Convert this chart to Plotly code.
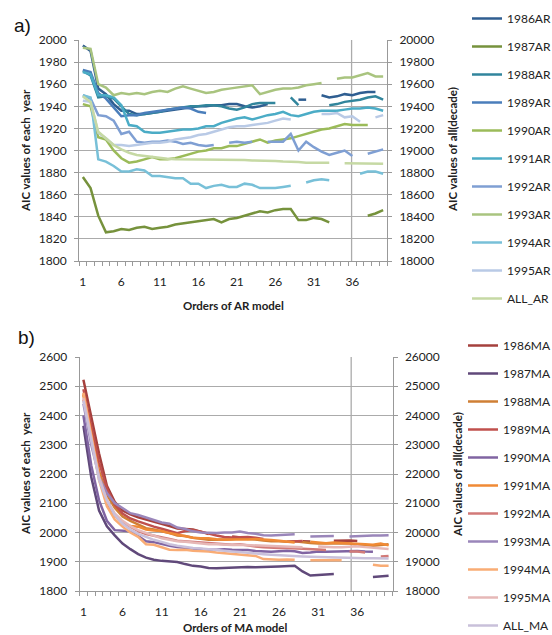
import plotly.graph_objects as go

N = None
orders = list(range(1, 41))
x_ticks = [1, 6, 11, 16, 21, 26, 31, 36]

# ---------------- AR models (panel a) ----------------
ar_1986 = [1995, 1990, 1956, 1951, 1942, 1936, 1936, 1933, 1933, 1934, 1935, 1936, 1937, 1938, 1939, 1940, 1940, 1941, 1941, 1942,
           1942, 1940, 1939, 1940, 1942, N, N, N, 1946, 1946, N, 1950, 1948, 1949, 1951, 1950, 1952, 1953, 1953, N]
ar_1987 = [1876, 1866, 1841, 1826, 1827, 1829, 1828, 1830, 1831, 1829, 1830, 1831, 1833, 1834, 1835, 1836, 1837, 1838, 1835, 1838,
           1839, 1841, 1843, 1845, 1844, 1846, 1847, 1847, 1837, 1837, 1839, 1838, 1835, N, N, N, N, 1841, 1843, 1846]
ar_1988 = [1972, 1968, 1948, 1949, 1947, 1940, 1933, 1932, 1933, 1934, 1935, 1937, 1938, 1939, 1940, 1940, 1941, 1941, 1940, 1938,
           1937, 1939, 1942, 1943, 1943, 1943, N, 1948, 1941, N, N, N, 1941, 1942, 1944, 1945, 1946, 1948, 1949, 1946]
ar_1989 = [1973, 1971, 1952, 1947, 1939, 1931, 1932, 1932, 1934, 1935, 1936, 1937, 1938, 1939, 1938, 1935, 1934, N, N, N,
           N, N, N, N, N, N, N, N, N, N, N, N, N, N, N, N, N, N, N, N]
ar_1990 = [1942, 1940, 1912, 1910, 1900, 1893, 1889, 1890, 1892, 1894, 1892, 1892, 1893, 1895, 1897, 1899, 1900, 1902, 1902, 1904,
           1904, 1906, 1908, 1910, 1907, 1909, 1910, 1911, 1913, 1915, 1917, 1919, 1920, 1922, 1924, 1923, 1923, 1923, N, N]
ar_1991 = [1971, 1969, 1950, 1950, 1948, 1941, 1923, 1922, 1917, 1916, 1916, 1917, 1918, 1919, 1919, 1920, 1922, 1922, 1925, 1927,
           1929, 1930, 1928, 1930, 1932, 1933, 1935, 1932, 1931, 1933, 1935, 1936, 1936, 1936, 1937, 1938, 1938, 1939, 1938, 1936]
ar_1992 = [1950, 1947, 1932, 1931, 1927, 1915, 1917, 1908, 1907, 1908, 1908, 1909, 1908, 1906, 1907, 1905, 1904, 1905, N, 1907,
           1908, 1907, 1908, N, 1908, 1908, 1908, 1915, 1900, 1908, 1903, 1899, 1896, 1898, 1900, 1895, N, 1897, 1899, 1901]
ar_1993 = [1993, 1992, 1960, 1957, 1950, 1952, 1951, 1952, 1951, 1953, 1954, 1953, 1956, 1958, 1956, 1954, 1952, 1953, 1955, 1956,
           1957, 1958, 1959, 1951, 1953, 1955, 1956, 1956, 1957, 1959, 1960, 1961, N, 1965, 1966, 1966, 1968, 1970, 1967, 1967]
ar_1994 = [1950, 1948, 1892, 1890, 1886, 1881, 1881, 1883, 1882, 1877, 1877, 1876, 1875, 1875, 1870, 1870, 1866, 1868, 1869, 1867,
           1867, 1870, 1869, 1866, 1866, 1866, 1867, 1868, N, 1871, 1873, 1874, 1873, N, N, N, 1879, 1881, 1881, 1879]
ar_1995 = [1945, 1944, 1916, 1911, 1905, 1905, 1904, 1905, 1906, 1907, 1907, 1908, 1910, 1911, 1912, 1914, 1915, 1917, 1919, 1921,
           1922, 1922, 1923, 1924, 1925, 1927, 1929, 1928, N, N, N, 1933, 1933, 1934, 1930, 1931, 1926, N, 1930, 1932]
all_ar = [19490, 19440, 19170, 19110, 19050, 19010, 18980, 18960, 18950, 18940, 18930, 18925, 18920, 18920, 18920, 18915, 18915,
          18915, 18915, 18915, 18915, 18915, 18910, 18910, 18905, 18905, 18900, 18900, 18895, 18890, 18890, 18885, 18890, N,
          18885, 18885, 18885, 18885, 18885, 18880]

ar_series = [
    ("1986AR", ar_1986, "#2f5e91"),
    ("1987AR", ar_1987, "#76923c"),
    ("1988AR", ar_1988, "#31859c"),
    ("1989AR", ar_1989, "#4a7ebb"),
    ("1990AR", ar_1990, "#9bbb59"),
    ("1991AR", ar_1991, "#4bacc6"),
    ("1992AR", ar_1992, "#7f9fd3"),
    ("1993AR", ar_1993, "#a9c47f"),
    ("1994AR", ar_1994, "#78c0d8"),
    ("1995AR", ar_1995, "#b9cae6"),
]

# ---------------- MA models (panel b) ----------------
ma_1986 = [2522, 2400, 2270, 2160, 2105, 2075, 2062, 2052, 2045, 2037, 2030, 2022, 2014, 2012, 2010, 2003, 1995, N, N, 1986,
           1982, 1980, N, N, N, N, N, N, 1970, 1969, N, N, 1972, 1973, 1973, 1971, N, N, N, N]
ma_1987 = [2365, 2190, 2075, 2021, 1990, 1962, 1943, 1926, 1914, 1907, 1903, 1901, 1899, 1892, 1886, 1884, 1879, 1878, 1879, 1880,
           1882, 1882, 1881, 1883, 1883, 1884, 1885, 1886, 1867, 1853, 1855, 1857, 1858, N, N, N, N, 1848, 1850, 1852]
ma_1988 = [2470, 2330, 2210, 2130, 2085, 2055, 2040, 2028, 2015, 2010, 2005, 1998, 1990, 1988, 1982, 1978, 1975, 1975, 1975, 1977,
           1980, 1979, 1976, 1973, 1970, 1970, 1968, 1970, 1966, 1964, 1962, 1963, 1964, 1963, 1962, 1958, 1957, 1955, 1957, 1960]
ma_1989 = [2490, 2370, 2240, 2150, 2095, 2065, 2048, 2038, 2028, 2020, 2013, 2005, 1998, 2005, 2008, 2003, 1996, 1990, 1985, 1983,
           1984, 1985, 1982, 1978, N, N, 1968, 1970, 1971, N, N, N, N, N, N, N, N, N, N, N]
ma_1990 = [2400, 2230, 2110, 2040, 2008, 2006, 2004, 1988, 1970, 1967, 1960, 1955, 1950, 1947, 1945, 1944, 1941, 1941, 1943, 1941,
           1941, 1940, 1937, 1936, 1934, 1936, 1938, 1936, 1930, 1932, 1935, 1934, 1935, 1936, 1938, 1937, 1935, 1934, N, N]
ma_1991 = [2475, 2340, 2200, 2110, 2060, 2030, 2022, 2020, 2010, 2007, 2005, 1998, 1992, 1987, 1982, 1980, 1980, 1977, 1975, 1976,
           1975, 1976, 1978, 1977, 1974, 1972, 1970, 1966, N, 1968, 1965, 1963, 1966, 1965, 1963, 1962, 1960, 1958, 1962, 1956]
ma_1992 = [2455, 2320, 2190, 2100, 2060, 2035, 2020, 2005, 1995, 1990, 1985, 1978, 1972, 1970, 1967, 1965, 1963, 1962, 1960, 1958,
           1960, 1955, 1952, 1950, 1948, 1947, 1947, 1946, 1945, 1945, 1942, 1940, N, N, 1935, 1935, 1932, N, 1918, 1920]
ma_1993 = [2440, 2300, 2190, 2135, 2101, 2083, 2066, 2060, 2051, 2041, 2034, 2030, 2017, 2012, 2004, 2000, 1998, 1998, 2000, 2000,
           2003, 1998, 1996, 1991, 1990, 1991, 1993, 1994, N, 1986, 1986, 1986, 1988, N, 1986, 1988, 1989, 1990, 1990, 1991]
ma_1994 = [2478, 2330, 2180, 2090, 2045, 2020, 2000, 1985, 1960, 1958, 1950, 1941, 1940, 1941, 1938, 1937, 1935, 1932, 1930, 1927,
           1924, 1922, 1920, 1909, 1907, 1907, 1908, 1907, N, 1905, 1904, 1905, 1906, 1905, N, N, N, 1890, 1886, 1886]
ma_1995 = [2460, 2320, 2190, 2110, 2065, 2040, 2022, 2008, 1998, 1988, 1980, 1975, 1970, 1968, 1965, 1962, 1960, 1960, 1958, 1957,
           1958, 1957, 1956, 1955, 1953, 1952, 1953, 1950, 1950, N, 1952, 1950, 1950, 1950, 1952, 1953, 1950, 1948, 1944, 1944]
all_ma = [24500, 23100, 21800, 21100, 20600, 20300, 20100, 19950, 19850, 19750, 19680, 19600, 19550, 19500, 19470, 19450, 19420,
          19400, 19370, 19350, 19330, 19300, 19280, 19260, 19240, 19220, 19210, 19200, 19180, 19170, 19160, 19150, 19140, 19140,
          19130, 19130, 19120, 19120, 19110, 19110]

ma_series = [
    ("1986MA", ma_1986, "#a5403d"),
    ("1987MA", ma_1987, "#60497a"),
    ("1988MA", ma_1988, "#cf7f35"),
    ("1989MA", ma_1989, "#c0504d"),
    ("1990MA", ma_1990, "#8064a2"),
    ("1991MA", ma_1991, "#f08a35"),
    ("1992MA", ma_1992, "#d27a78"),
    ("1993MA", ma_1993, "#9a86ba"),
    ("1994MA", ma_1994, "#f9ac75"),
    ("1995MA", ma_1995, "#e6b8b7"),
]

W, H = 552, 635
FONT = "Lato"
TXT = "#222222"
GRID = "#ababab"
AX = "#999999"
LW = 2.5

fig = go.Figure()

for name, vals, col in ar_series:
    fig.add_trace(go.Scatter(x=orders, y=vals, name=name, mode="lines",
                             line=dict(color=col, width=LW), xaxis="x", yaxis="y",
                             legend="legend", legendgroup=name))
fig.add_trace(go.Scatter(x=orders, y=all_ar, name="ALL_AR", mode="lines",
                         line=dict(color="#c6d9a4", width=LW), xaxis="x", yaxis="y2",
                         legend="legend", legendgroup="ALL_AR"))

for name, vals, col in ma_series:
    fig.add_trace(go.Scatter(x=orders, y=vals, name=name, mode="lines",
                             line=dict(color=col, width=LW), xaxis="x2", yaxis="y3",
                             legend="legend2", legendgroup=name))
fig.add_trace(go.Scatter(x=orders, y=all_ma, name="ALL_MA", mode="lines",
                         line=dict(color="#c9c0da", width=LW), xaxis="x2", yaxis="y4",
                         legend="legend2", legendgroup="ALL_MA"))


def px_x(p):
    return p / W


def px_y(p):
    return 1 - p / H


xa_dom = [px_x(79), px_x(387)]
ya_dom = [px_y(261), px_y(40)]
xb_dom = [px_x(79.5), px_x(392.5)]
yb_dom = [px_y(591), px_y(357)]

tickfont = dict(family=FONT, size=12, color=TXT)

xcommon = dict(range=[0.5, 40.5], tickmode="array", tickvals=x_ticks, ticktext=[str(v) for v in x_ticks],
               ticks="", showgrid=False, showline=True, linecolor=AX, linewidth=1, zeroline=False,
               tickfont=tickfont, ticklabelstandoff=10, automargin=False,
               minor=dict(tick0=0.5, dtick=1, ticks="outside", ticklen=4, tickcolor=AX, showgrid=False))
ycommon = dict(showline=True, linecolor=AX, linewidth=1, ticks="outside", ticklen=4, tickcolor=AX,
               zeroline=False, tickfont=tickfont, ticklabelstandoff=5, automargin=False, tickformat="d")

fig.update_layout(
    width=W, height=H, margin=dict(l=0, r=0, t=0, b=0, autoexpand=False),
    paper_bgcolor="white", plot_bgcolor="white",
    font=dict(family=FONT, size=12, color=TXT),
    xaxis=dict(domain=xa_dom, anchor="y", **xcommon),
    yaxis=dict(domain=ya_dom, anchor="x", range=[1800, 2000], dtick=20, showgrid=True,
               gridcolor=GRID, gridwidth=1.3, **ycommon),
    yaxis2=dict(overlaying="y", side="right", anchor="x", range=[18000, 20000], dtick=200,
                showgrid=False, **ycommon),
    xaxis2=dict(domain=xb_dom, anchor="y3", **xcommon),
    yaxis3=dict(domain=yb_dom, anchor="x2", range=[1800, 2600], dtick=100, showgrid=True,
                gridcolor=GRID, gridwidth=1.3, **ycommon),
    yaxis4=dict(overlaying="y3", side="right", anchor="x2", range=[18000, 26000], dtick=1000,
                showgrid=False, **ycommon),
    legend=dict(x=px_x(467), y=px_y(4), xanchor="left", yanchor="top", bgcolor="rgba(0,0,0,0)",
                font=dict(family=FONT, size=12, color=TXT), tracegroupgap=9, itemwidth=30),
    legend2=dict(x=px_x(463), y=px_y(331), xanchor="left", yanchor="top", bgcolor="rgba(0,0,0,0)",
                 font=dict(family=FONT, size=12, color=TXT), tracegroupgap=9, itemwidth=30),
    showlegend=True,
)

# single vertical reference line inside each plot area
fig.add_shape(type="line", xref="x domain", yref="y domain", x0=0.885, x1=0.885, y0=0, y1=1,
              line=dict(color=GRID, width=1.3), layer="below")
fig.add_shape(type="line", xref="x2 domain", yref="y3 domain", x0=0.868, x1=0.868, y0=0, y1=1,
              line=dict(color=GRID, width=1.3), layer="below")

ttl = dict(family=FONT, size=11.5, color=TXT)
ann = [
    dict(text="a)", x=px_x(12), y=px_y(25), xanchor="left", yanchor="middle",
         font=dict(family="Liberation Sans", size=19, color="#111")),
    dict(text="b)", x=px_x(16), y=px_y(337), xanchor="left", yanchor="middle",
         font=dict(family="Liberation Sans", size=19, color="#111")),
    dict(text="<b>AIC values of each  year</b>", x=px_x(25), y=px_y(151), textangle=-90, font=ttl),
    dict(text="<b>AIC values of all(decade)</b>", x=px_x(452), y=px_y(150), textangle=-90, font=ttl),
    dict(text="<b>Orders of AR model</b>", x=px_x(233), y=px_y(305), font=ttl),
    dict(text="<b>AIC values of each  year</b>", x=px_x(25), y=px_y(474), textangle=-90, font=ttl),
    dict(text="<b>AIC values of all(decade)</b>", x=px_x(457), y=px_y(475), textangle=-90, font=ttl),
    dict(text="<b>Orders of MA model</b>", x=px_x(235), y=px_y(627), font=ttl),
]
for a in ann:
    a.update(xref="paper", yref="paper", showarrow=False)
    a.setdefault("xanchor", "center")
    a.setdefault("yanchor", "middle")
fig.update_layout(annotations=ann)

fig.write_html("out.html", config={"displayModeBar": False},
               post_script="document.body.style.margin='0px';document.body.style.overflow='hidden';")
